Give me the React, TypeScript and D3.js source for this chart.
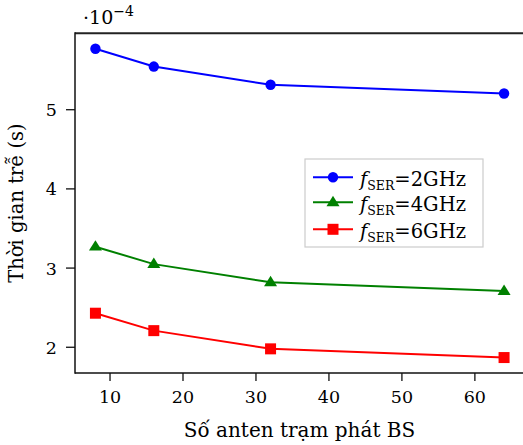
import React from "react";
import * as d3 from "d3";

const antennas = [8, 16, 32, 64];
const series2GHz = [5.77, 5.545, 5.315, 5.205];
const series4GHz = [3.27, 3.05, 2.82, 2.71];
const series6GHz = [2.43, 2.21, 1.98, 1.87];
const xTicks = [10, 20, 30, 40, 50, 60];
const yTicks = [2, 3, 4, 5];
const legendLabels = ["2GHz", "4GHz", "6GHz"];

const W = 523, H = 445;
const L = 75, R = 524.5, T = 33.3, B = 373;
const FONT = "'DejaVu Serif', serif";

export default function App() {
  const x = d3.scaleLinear().domain([5.2, 66.8]).range([L, R]);
  const y = d3.scaleLinear().domain([1.675, 5.965]).range([B, T]);
  const line = d3.line<number>().x((_, i) => x(antennas[i])).y((v) => y(v));
  const series = [
    { data: series2GHz, color: "#0000ff", marker: "circle" },
    { data: series4GHz, color: "#008000", marker: "triangle" },
    { data: series6GHz, color: "#ff0000", marker: "square" },
  ];
  const marker = (m: string, cx: number, cy: number, color: string, key: any) => {
    if (m === "circle") return <circle key={key} cx={cx} cy={cy} r={5.2} fill={color} />;
    if (m === "square") return <rect key={key} x={cx - 5.5} y={cy - 5.5} width={11} height={11} fill={color} />;
    const s = 6.5;
    return <path key={key} d={`M${cx},${cy - s}L${cx + s},${cy + s * 0.6}L${cx - s},${cy + s * 0.6}Z`} fill={color} />;
  };
  const legY = [177.3, 202.3, 229.3];
  return (
    <svg width={W} height={H} style={{ position: "absolute", left: 0, top: 0, background: "#fff" }} fontFamily={FONT}>
      <rect x={0} y={0} width={W} height={H} fill="#fff" />
      {series.map((s, si) => (
        <g key={si}>
          <path d={line(s.data) || ""} fill="none" stroke={s.color} strokeWidth={2} />
          {s.data.map((v, i) => marker(s.marker, x(antennas[i]), y(v), s.color, i))}
        </g>
      ))}
      {/* frame */}
      <line x1={L} x2={R} y1={T} y2={T} stroke="#222" strokeWidth={2} />
      <line x1={L} x2={R} y1={B} y2={B} stroke="#111" strokeWidth={1.5} />
      <line x1={L} x2={L} y1={T - 1} y2={B + 0.75} stroke="#111" strokeWidth={1.5} />
      <line x1={R} x2={R} y1={T} y2={B} stroke="#111" strokeWidth={1.5} />
      {xTicks.map((t) => (
        <g key={t}>
          <line x1={x(t)} x2={x(t)} y1={B} y2={B + 8} stroke="#111" strokeWidth={1.3} />
          <text x={x(t)} y={403} textAnchor="middle" fontSize={17.5}>{t}</text>
        </g>
      ))}
      {yTicks.map((t) => (
        <g key={t}>
          <line x1={L - 9} x2={L} y1={y(t)} y2={y(t)} stroke="#111" strokeWidth={1.3} />
          <text x={57} y={y(t) + 6.5} textAnchor="end" fontSize={17.5}>{t}</text>
        </g>
      ))}
      <text x={83} y={24} fontSize={19}>·10<tspan dy={-8} fontSize={14}>−4</tspan></text>
      <text x={299.5} y={437} textAnchor="middle" fontSize={20}>Số anten trạm phát BS</text>
      <text transform={`translate(23,203) rotate(-90)`} textAnchor="middle" fontSize={19.5}>Thời gian trễ (s)</text>
      {/* legend */}
      <rect x={305} y={159} width={178} height={88} fill="#fff" stroke="#ccc" strokeWidth={1.2} />
      {series.map((s, i) => (
        <g key={i}>
          <line x1={313} x2={353} y1={legY[i]} y2={legY[i]} stroke={s.color} strokeWidth={2} />
          {marker(s.marker, 333, legY[i], s.color, "m")}
          <text x={360} y={legY[i] + 8.5} fontSize={19.5}>
            <tspan fontStyle="italic">f</tspan>
            <tspan fontSize={12.5} dy={4}>SER</tspan>
            <tspan dy={-4}>=</tspan>
            <tspan>{legendLabels[i]}</tspan>
          </text>
        </g>
      ))}
    </svg>
  );
}
